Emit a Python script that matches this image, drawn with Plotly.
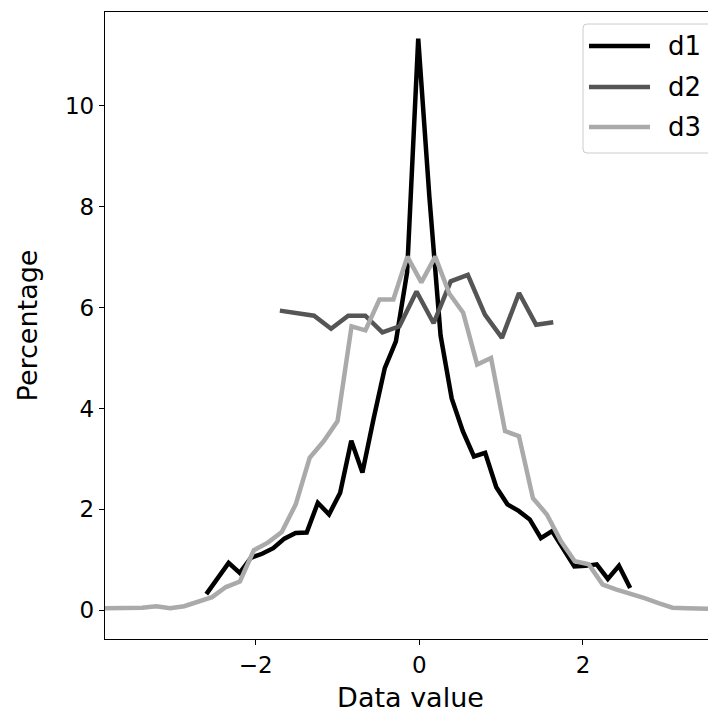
import plotly.graph_objects as go

# ---- data ----
d1_x = [-2.603, -2.466, -2.330, -2.194, -2.058, -1.921, -1.785, -1.649, -1.512, -1.376,
        -1.240, -1.103, -0.967, -0.831, -0.695, -0.558, -0.422, -0.286, -0.149, -0.013,
        0.123, 0.260, 0.396, 0.532, 0.668, 0.805, 0.941, 1.077, 1.214, 1.350,
        1.486, 1.623, 1.759, 1.895, 2.031, 2.168, 2.304, 2.440, 2.577]
d1_y = [0.32, 0.63, 0.94, 0.74, 1.04, 1.12, 1.23, 1.42, 1.53, 1.54,
        2.13, 1.90, 2.33, 3.36, 2.73, 3.80, 4.80, 5.33, 6.70, 11.33,
        8.20, 5.45, 4.20, 3.55, 3.05, 3.12, 2.44, 2.10, 1.97, 1.80,
        1.43, 1.57, 1.21, 0.87, 0.88, 0.91, 0.62, 0.88, 0.44]

d2_x = [-1.704, -1.495, -1.286, -1.078, -0.869, -0.660, -0.451, -0.242, -0.034,
        0.175, 0.384, 0.593, 0.802, 1.010, 1.219, 1.428, 1.637]
d2_y = [5.94, 5.89, 5.84, 5.58, 5.84, 5.84, 5.51, 5.63, 6.32,
        5.69, 6.52, 6.65, 5.86, 5.40, 6.29, 5.66, 5.71]

d3_x = [-3.897, -3.727, -3.556, -3.386, -3.215, -3.045, -2.874, -2.704, -2.533, -2.363,
        -2.192, -2.022, -1.851, -1.681, -1.510, -1.340, -1.169, -0.999, -0.828, -0.658,
        -0.487, -0.317, -0.146, 0.025, 0.195, 0.366, 0.536, 0.707, 0.877, 1.048,
        1.218, 1.389, 1.559, 1.730, 1.900, 2.071, 2.241, 2.412, 2.582, 2.753,
        2.923, 3.094, 3.264, 3.435, 3.605, 3.776]
d3_y = [0.04, 0.04, 0.04, 0.05, 0.08, 0.04, 0.08, 0.17, 0.26, 0.46,
        0.57, 1.19, 1.34, 1.55, 2.10, 3.02, 3.35, 3.75, 5.63, 5.55,
        6.16, 6.16, 7.01, 6.50, 7.01, 6.28, 5.90, 4.87, 5.00, 3.55,
        3.45, 2.22, 1.90, 1.37, 0.97, 0.91, 0.51, 0.41, 0.33, 0.24,
        0.14, 0.05, 0.04, 0.03, 0.01, 0.02]

series_names = ["d1", "d2", "d3"]
series_colors = ["#000000", "#555555", "#aaaaaa"]

x_tickvals = [-2, 0, 2]
x_ticktext = ["\u22122", "0", "2"]
y_tickvals = [0, 2, 4, 6, 8, 10]
y_ticktext = ["0", "2", "4", "6", "8", "10"]

FONT = "DejaVu Sans"
OFF = 8  # default page body margin
W, H = 708, 711
ML, MR, MT, MB = 97, 0, 4, 80
PW, PH = W - ML - MR, H - MT - MB
LW = 4.5


def px_to_paper(px, py):
    """window pixel -> paper coords"""
    return (px - OFF - ML) / PW, (H - MB - (py - OFF)) / PH


fig = go.Figure()
for name, xs, ys, col in zip(series_names, [d1_x, d2_x, d3_x], [d1_y, d2_y, d3_y], series_colors):
    fig.add_trace(go.Scatter(x=xs, y=ys, mode="lines", name=name,
                             line=dict(color=col, width=LW), showlegend=False))

# ---- legend drawn as a framed box (matplotlib style) ----
shapes = []
annotations = []
bx0, by0 = px_to_paper(583, 24)
bx1, by1 = px_to_paper(713, 153)
rx, ry = 4 / PW, 4 / PH
path = (f"M{bx0+rx},{by0} L{bx1-rx},{by0} Q{bx1},{by0} {bx1},{by0-ry} "
        f"L{bx1},{by1+ry} Q{bx1},{by1} {bx1-rx},{by1} L{bx0+rx},{by1} "
        f"Q{bx0},{by1} {bx0},{by1+ry} L{bx0},{by0-ry} Q{bx0},{by0} {bx0+rx},{by0} Z")
shapes.append(dict(type="path", xref="paper", yref="paper", path=path,
                   fillcolor="rgba(255,255,255,0.8)", line=dict(color="#cccccc", width=1),
                   layer="above"))
row_y = [46, 87, 127]
for name, col, ry_px in zip(series_names, series_colors, row_y):
    lx0, ly = px_to_paper(589, ry_px)
    lx1, _ = px_to_paper(650, ry_px)
    shapes.append(dict(type="line", xref="paper", yref="paper", x0=lx0, x1=lx1, y0=ly, y1=ly,
                       line=dict(color=col, width=LW), layer="above"))
    tx, ty = px_to_paper(666, ry_px)
    annotations.append(dict(xref="paper", yref="paper", x=tx, y=ty, text=name,
                            showarrow=False, xanchor="left", yanchor="middle",
                            font=dict(family=FONT, size=26, color="black")))

fig.update_layout(
    width=W, height=H,
    margin=dict(l=ML, r=MR, t=MT, b=MB),
    paper_bgcolor="white", plot_bgcolor="white",
    font=dict(family=FONT, size=23, color="black"),
    showlegend=False,
    shapes=shapes, annotations=annotations,
    xaxis=dict(range=[-3.841, 3.626], tickvals=x_tickvals, ticktext=x_ticktext,
               showgrid=False, zeroline=False, showline=True, linecolor="black",
               linewidth=1.3, mirror=True, ticks="outside", ticklen=5, tickwidth=1.3,
               tickcolor="black", automargin=False,
               tickfont=dict(family=FONT, size=23, color="black"),
               title=dict(text="Data value", standoff=11,
                          font=dict(family=FONT, size=27, color="black"))),
    yaxis=dict(range=[-0.57, 11.86], tickvals=y_tickvals, ticktext=y_ticktext,
               showgrid=False, zeroline=False, showline=True, linecolor="black",
               linewidth=1.3, mirror=False, ticks="outside", ticklen=5, tickwidth=1.3,
               tickcolor="black", automargin=False,
               tickfont=dict(family=FONT, size=23, color="black"),
               title=dict(text="Percentage", standoff=19,
                          font=dict(family=FONT, size=27, color="black"))),
)

fig.write_html("out.html")
